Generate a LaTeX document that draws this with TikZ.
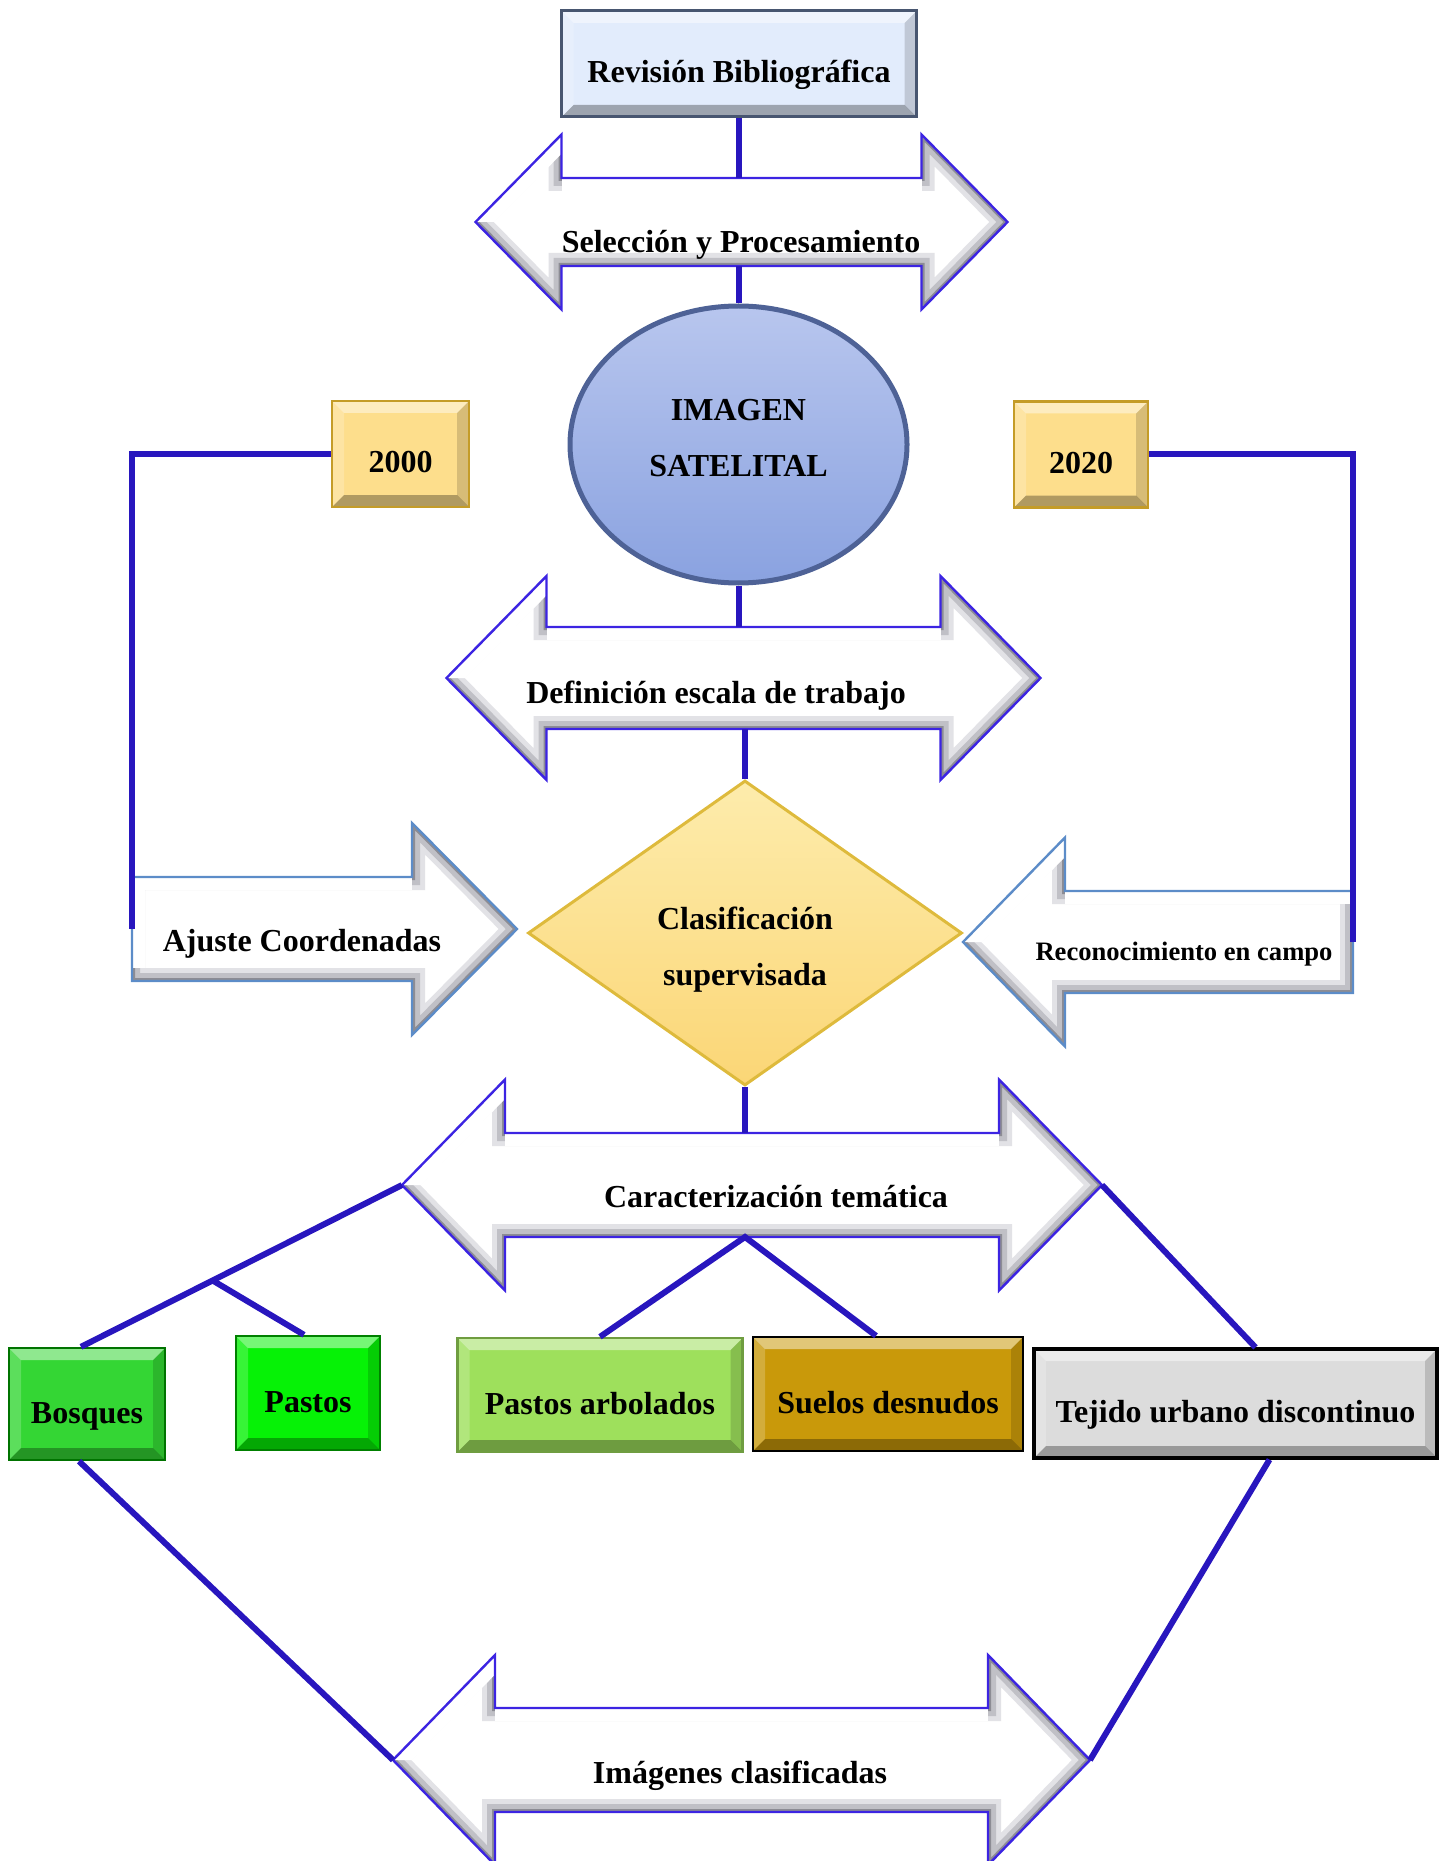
\documentclass[tikz,border=0pt]{standalone}
\usepackage{fontspec}
\setmainfont{Liberation Serif}
\usepackage{tikz}
\usetikzlibrary{shapes, positioning, calc}

\definecolor{azulborde}{RGB}{60,36,226}
\definecolor{azullinea}{RGB}{40,22,190}
\definecolor{acero}{RGB}{92,140,200}
\definecolor{grisclaro}{RGB}{226,226,230}
\definecolor{grismedio}{RGB}{192,192,198}
\definecolor{grisoscuro}{RGB}{140,140,148}
\definecolor{celeste}{RGB}{226,236,252}
\definecolor{pizarra}{RGB}{72,86,112}
\definecolor{elipsearriba}{RGB}{184,198,238}
\definecolor{elipseabajo}{RGB}{138,162,224}
\definecolor{elipseborde}{RGB}{78,98,150}
\definecolor{amarillo}{RGB}{253,222,140}
\definecolor{amarilloborde}{RGB}{196,156,40}
\definecolor{oroclaro}{RGB}{253,236,172}
\definecolor{oro}{RGB}{251,214,118}
\definecolor{oroborde}{RGB}{222,186,60}
\definecolor{bosque}{RGB}{52,214,52}
\definecolor{pasto}{RGB}{6,242,6}
\definecolor{arbolado}{RGB}{158,224,92}
\definecolor{suelo}{RGB}{201,153,10}
\definecolor{urbano}{RGB}{220,220,220}

% double arrow outline: cx, cy, half length, head length, shaft half, head half
\newcommand{\dpoly}[6]{(#1-#3,#2) -- (#1-#3+#4,#2-#6) -- (#1-#3+#4,#2-#5) -- (#1+#3-#4,#2-#5) -- (#1+#3-#4,#2-#6) -- (#1+#3,#2) -- (#1+#3-#4,#2+#6) -- (#1+#3-#4,#2+#5) -- (#1-#3+#4,#2+#5) -- (#1-#3+#4,#2+#6) -- cycle}
% single arrow outline: tail x, cy, head base x, tip x, shaft half, head half
\newcommand{\spoly}[6]{(#1,#2-#5) -- (#3,#2-#5) -- (#3,#2-#6) -- (#4,#2) -- (#3,#2+#6) -- (#3,#2+#5) -- (#1,#2+#5) -- cycle}
% grey inner bevel along a closed outline
\newcommand{\bevel}[1]{%
  \fill[white] #1;
  \draw[grisclaro, line width=13pt] #1;
  \draw[grismedio, line width=8pt] #1;
  \draw[grisoscuro, line width=3pt] #1;
}

\newcommand{\dflecha}[7]{%
  \begin{scope}
    \clip \dpoly{#2}{#3}{#4}{#5}{#6}{#7};
    \bevel{\dpoly{#2}{#3}{#4}{#5}{#6}{#7}}
    \fill[white] (#2-#4+#5,#3-#6) rectangle (#2+#4-#5,#3-#6+13);
    \fill[white] (#2-#4,#3) -- (#2-#4+#5,#3-#7) -- (#2-#4+#5+19,#3-#7) -- (#2-#4+19,#3) -- cycle;
  \end{scope}
  \draw[azulborde, line width=1.2pt] \dpoly{#2}{#3}{#4}{#5}{#6}{#7};
  \coordinate (#1-n) at (#2,#3-#6);
  \coordinate (#1-s) at (#2,#3+#6);
  \coordinate (#1-w) at (#2-#4,#3);
  \coordinate (#1-e) at (#2+#4,#3);
}

\newcommand{\sflecha}[7]{%
  \begin{scope}
    \clip \spoly{#2}{#3}{#4}{#5}{#6}{#7};
    \bevel{\spoly{#2}{#3}{#4}{#5}{#6}{#7}}
    \fill[white] (#2,#3-#6) rectangle (#4,#3-#6+13);
    \fill[white] (#2,#3-#6) rectangle (#2+13,#3+#6-13);
    \fill[white] (#5,#3) -- (#4,#3-#7) -- (#4+19,#3-#7) -- (#5+19,#3) -- cycle;
  \end{scope}
  \draw[acero, line width=1.2pt] \spoly{#2}{#3}{#4}{#5}{#6}{#7};
  \coordinate (#1-t) at (#2,#3);
  \coordinate (#1-p) at (#5,#3);
}

\tikzset{bisel/.style={path picture={
  \coordinate (pp1) at (path picture bounding box.north west);
  \coordinate (pp2) at (path picture bounding box.north east);
  \coordinate (pp3) at (path picture bounding box.south east);
  \coordinate (pp4) at (path picture bounding box.south west);
  \fill[white, opacity=.45] (pp1) -- (pp2) -- ([shift={(-6pt,-6pt)}]pp2) -- ([shift={(6pt,-6pt)}]pp1) -- cycle;
  \fill[white, opacity=.2] (pp1) -- ([shift={(6pt,-6pt)}]pp1) -- ([shift={(6pt,6pt)}]pp4) -- (pp4) -- cycle;
  \fill[black, opacity=.15] (pp2) -- (pp3) -- ([shift={(-6pt,6pt)}]pp3) -- ([shift={(-6pt,-6pt)}]pp2) -- cycle;
  \fill[black, opacity=.3] (pp4) -- (pp3) -- ([shift={(-6pt,6pt)}]pp3) -- ([shift={(6pt,6pt)}]pp4) -- cycle;
}}}
\tikzstyle{caja} = [rectangle, draw, line width=1.2pt, inner sep=0pt, text height=23pt, text depth=4pt, bisel]
\tikzstyle{anio} = [caja, fill=amarillo, draw=amarilloborde, minimum height=53pt]
\tikzstyle{clase} = [caja, minimum height=56pt]
\tikzstyle{rotulo} = [inner sep=0pt]
\tikzstyle{enlace} = [azullinea, line width=3pt]

\begin{document}
\begin{tikzpicture}[x=0.5pt, y=-0.5pt, font=\fontsize{16}{19}\selectfont\bfseries]
\useasboundingbox (0,0) rectangle (1446,1861);

% arrows
\dflecha{sel}{741.5}{222}{266}{86}{44}{87.5}
\dflecha{def}{743.5}{678}{297}{100}{51}{102}
\dflecha{car}{752}{1185}{350}{103}{52}{105.5}
\dflecha{imc}{741.5}{1760}{348.5}{102}{52}{105}
\sflecha{aju}{132}{929}{412}{517}{52}{106}
\sflecha{rec}{1353}{942}{1065}{963}{51}{104.5}

\node (selt) [rotulo] at (741,245) {Selección y Procesamiento};
\node (deft) [rotulo] at (716,696) {Definición escala de trabajo};
\node (cart) [rotulo] at (776,1197) {Caracterización temática};
\node (imct) [rotulo] at (740,1776) {Imágenes clasificadas};
\node (ajut) [rotulo] at (302,944) {Ajuste Coordenadas};
\node (rect) [rotulo, font=\fontsize{13.3}{16}\selectfont\bfseries] at (1184,954) {Reconocimiento en campo};

% main nodes
\node (rev) [caja, fill=celeste, draw=pizarra, line width=1.5pt, minimum width=177.5pt, minimum height=53pt] at (739,64) {Revisión Bibliográfica};
\node (img) [ellipse, inner sep=0pt, minimum width=168.5pt, minimum height=138.5pt, top color=elipsearriba, bottom color=elipseabajo, draw=elipseborde, line width=2.5pt] at (738.5,444.5) {\raisebox{-2.75pt}[10pt][10pt]{\begin{tabular}{@{}c@{}}IMAGEN\\[9pt]SATELITAL\end{tabular}}};
\node (y2000) [anio, minimum width=68.5pt] at (400.5,454) {2000};
\node (y2020) [anio, minimum width=67pt] at (1081,454.5) {2020};
\node (clas) [diamond, aspect=1.43, inner sep=0pt, minimum width=217pt, minimum height=152.5pt, top color=oroclaro, bottom color=oro, draw=oroborde, line width=1.5pt] at (745,933) {\raisebox{-12.9pt}[10pt][10pt]{\begin{tabular}{@{}c@{}}Clasificación\\[9pt]supervisada\end{tabular}}};

\node (bos) [clase, fill=bosque, draw=green!45!black, minimum width=78pt] at (87,1404) {Bosques};
\node (pas) [clase, fill=pasto, draw=green!50!black, minimum width=72pt, minimum height=57pt] at (308,1393) {Pastos};
\node (arb) [clase, fill=arbolado, draw=arbolado!70!black, minimum width=142.5pt, minimum height=57pt] at (600,1395) {Pastos arbolados};
\node (sue) [clase, fill=suelo, draw=black, minimum width=135pt, minimum height=57pt] at (888,1394) {Suelos desnudos};
\node (tej) [clase, fill=urbano, draw=black, line width=1.6pt, minimum width=201.5pt, minimum height=54.5pt] at (1235.5,1403.5) {Tejido urbano discontinuo};

% connectors
\draw[enlace] (rev.south) -- (rev.south |- sel-n);
\draw[enlace] (img.north |- sel-s) -- (img.north);
\draw[enlace] (img.south) -- (img.south |- def-n);
\draw[enlace] (clas.north |- def-s) -- (clas.north);
\draw[enlace] (clas.south) -- (clas.south |- car-n);
\draw[enlace] (y2000.west) -| (aju-t);
\draw[enlace] (y2020.east) -| (rec-t);
\draw[enlace] (arb.north) -- (clas.south |- car-s) -- ([xshift=-6pt]sue.north);
\draw[enlace] (car-w) -- coordinate[pos=0.59] (rama) ([xshift=-3pt]bos.north);
\draw[enlace] (rama) -- ([xshift=-2pt]pas.north);
\draw[enlace] (car-e) -- ([xshift=10pt]tej.north);
\draw[enlace] ([xshift=-4pt]bos.south) -- (imc-w);
\draw[enlace] ([xshift=17pt]tej.south) -- (imc-e);
\end{tikzpicture}
\end{document}
